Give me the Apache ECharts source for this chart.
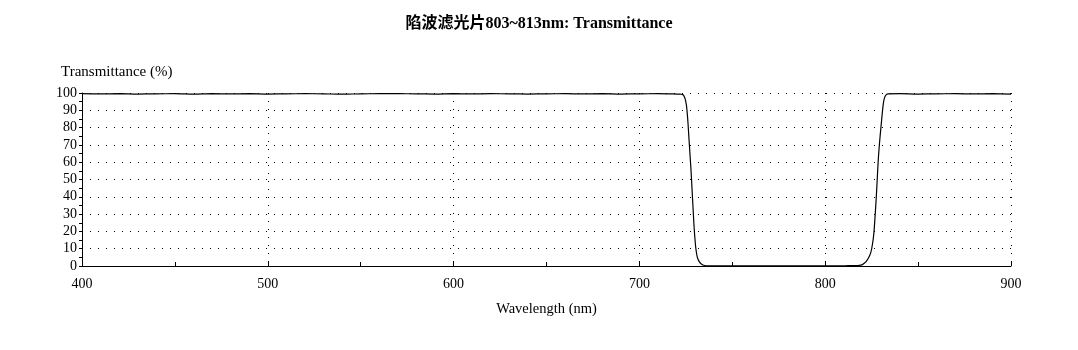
<!DOCTYPE html>
<html><head><meta charset="utf-8">
<script src="https://cdn.jsdelivr.net/npm/echarts@6/dist/echarts.min.js"></script>
<style>html,body{margin:0;padding:0;background:#fff}#c{width:1078px;height:350px}</style>
</head><body><div id="c"></div>
<script>
const titleText = '陷波滤光片803~813nm: Transmittance';
const xName = 'Wavelength (nm)';
const yName = 'Transmittance (%)';
const wavelengths = [400,410,420,430,440,450,460,470,480,490,500,510,520,530,540,550,560,570,580,590,600,610,620,630,640,650,660,670,680,690,700,710,716,720,722,723.5,724.5,725.3,726,726.6,727.2,727.8,728.3,728.8,729.3,729.8,730.4,731.2,732.2,733.5,735,737,742,750,760,770,780,790,800,810,812,816,818,820,822,823.5,824.6,825.5,826.2,826.8,827.4,828,828.6,829.3,829.9,830.6,831.3,832,833,834,840,850,860,870,880,890,900];
const transmittance = [99.6,99.5,99.6,99.4,99.5,99.6,99.3,99.6,99.5,99.6,99.4,99.5,99.6,99.5,99.3,99.5,99.6,99.6,99.5,99.4,99.6,99.5,99.6,99.5,99.4,99.5,99.6,99.5,99.6,99.4,99.5,99.6,99.5,99.4,99.3,99.0,97,93,85,75,65,55,45,35,25,17,10,5,2.5,1,0.3,0.1,0.1,0.1,0.1,0.1,0.1,0.1,0.1,0.1,0.2,0.2,0.3,0.8,2.5,5,8,13,19,28,38,50,62,72,79,87,94,97.5,99.2,99.5,99.6,99.4,99.5,99.6,99.5,99.6,99.3];
const xTicks = {min:400, max:900, interval:100};
const yTicks = {min:0, max:100, interval:10};

const serif = '"Liberation Serif","Times New Roman",serif';
const chart = echarts.init(document.getElementById('c'));
const dotted = {color:'#000', width:1, type:[1,7]};
chart.setOption({
  animation:false,
  title:{text:titleText,left:'center',top:11,textStyle:{fontFamily:'"Liberation Serif","Noto Sans CJK SC",serif',fontSize:16,fontWeight:'bold',color:'#000'}},
  grid:{left:82,right:67,top:93,bottom:84},
  xAxis:{type:'value',min:xTicks.min,max:xTicks.max,interval:xTicks.interval,
    name:xName,nameLocation:'middle',nameGap:36,nameTextStyle:{fontFamily:serif,fontSize:14.5,color:'#000'},
    axisLine:{lineStyle:{color:'#000',width:1}},
    axisTick:{inside:true,length:4,lineStyle:{color:'#000'}},
    minorTick:{show:true,splitNumber:2,length:4,lineStyle:{color:'#000'}},
    axisLabel:{fontFamily:serif,fontSize:14,color:'#000',margin:11},
    splitLine:{show:true,lineStyle:dotted}},
  yAxis:{type:'value',min:yTicks.min,max:yTicks.max,interval:yTicks.interval,
    name:yName,nameLocation:'end',nameGap:13,nameTextStyle:{fontFamily:serif,fontSize:15,color:'#000',align:'left',padding:[0,0,0,-21]},
    axisLine:{show:true,lineStyle:{color:'#000',width:1}},
    axisTick:{show:true,inside:false,length:3,lineStyle:{color:'#000'}},
    minorTick:{show:true,splitNumber:2,length:3,lineStyle:{color:'#000'}},
    axisLabel:{fontFamily:serif,fontSize:14,color:'#000',margin:5},
    splitLine:{show:true,lineStyle:dotted}},
  series:[{type:'line',data:wavelengths.map((w,i)=>[w,transmittance[i]]),showSymbol:false,smooth:0.3,
    lineStyle:{color:'#000',width:1.2}}]
});
</script></body></html>
